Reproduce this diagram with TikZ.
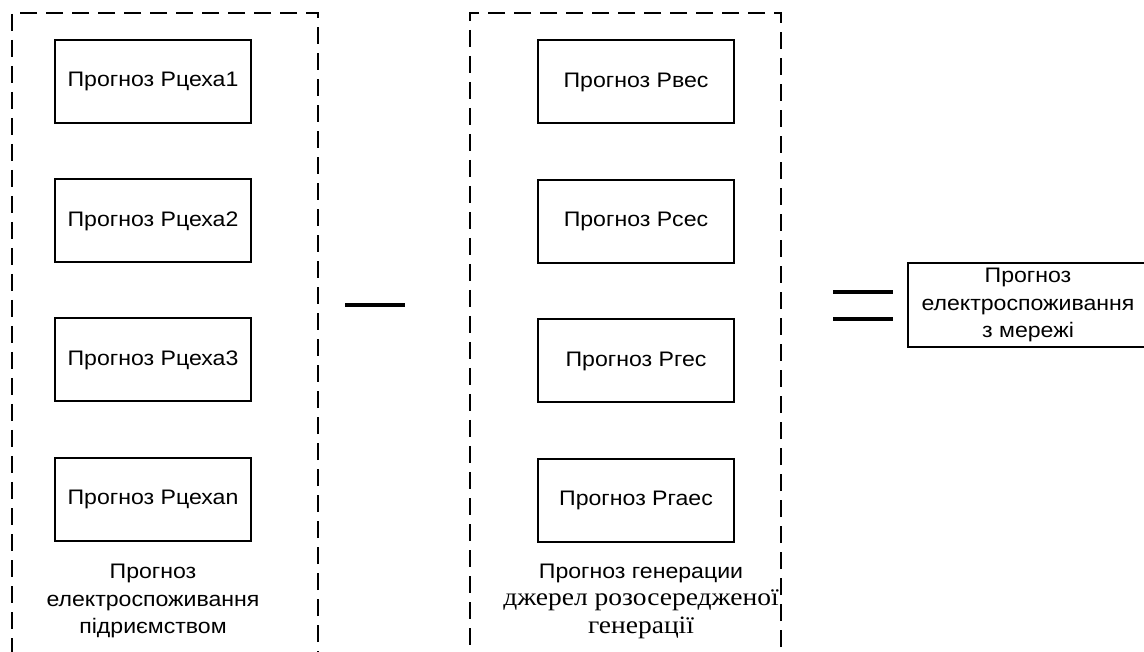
\documentclass[tikz,border=0pt]{standalone}
\usepackage{fontspec}
\setmainfont{Liberation Sans}[FakeStretch=1.1]
\newfontfamily\serifcyr{Liberation Serif}[FakeStretch=1.1]
\newcommand{\serifline}[1]{{\fontsize{25}{27.5}\selectfont\serifcyr #1}}
\begin{document}
\begin{tikzpicture}[x=1pt,y=-1pt,
  every node/.style={font=\fontsize{21}{27.5}\selectfont, inner sep=0pt},
  forecast/.style={draw, line width=2pt, minimum width=196pt, minimum height=83pt},
  group/.style={draw, line width=2pt, dash pattern=on 17pt off 9pt, minimum height=687pt},
  label/.style={align=center},
  sign/.style={line width=3.8pt}]
\useasboundingbox (0,0) rectangle (1144,652);
% dashed group frames
\node[group, minimum width=306pt] (gl) at (165,356.5) {};
\node[group, minimum width=311pt] (gr) at (625.5,356.5) {};
% enterprise consumption forecasts
\node[forecast] (c1) at (153,81.5) {Прогноз Рцеха1};
\node[forecast] (c2) at (153,221) {Прогноз Рцеха2};
\node[forecast] (c3) at (153,360) {Прогноз Рцеха3};
\node[forecast] (c4) at (153,499) {Прогноз Рцехаn};
% generation forecasts
\node[forecast] (g1) at (636,82) {Прогноз Рвес};
\node[forecast] (g2) at (636,221.5) {Прогноз Рсес};
\node[forecast] (g3) at (636,361) {Прогноз Ргес};
\node[forecast] (g4) at (636,500) {Прогноз Ргаес};
% group labels
\node[label] (ll) at (153,601) {Прогноз\\електроспоживання\\підриємством};
\node[label] (rl) at (641,601) {Прогноз генерации\\\serifline{джерел розосередженої}\\\serifline{генерації}};
% minus sign
\coordinate (m1) at (345,305);
\coordinate (m2) at (405,305);
\draw[sign] (m1) -- (m2);
% equals sign
\coordinate (e1) at (833,292);
\coordinate (e2) at (893,292);
\coordinate (e3) at (833,319);
\coordinate (e4) at (893,319);
\draw[sign] (e1) -- (e2);
\draw[sign] (e3) -- (e4);
% result
\node[draw, line width=2pt, minimum width=242pt, minimum height=84pt] (res) at (1029,305) {};
\node[label] (rt) at (1028,305) {Прогноз\\електроспоживання\\з мережі};
\end{tikzpicture}
\end{document}
